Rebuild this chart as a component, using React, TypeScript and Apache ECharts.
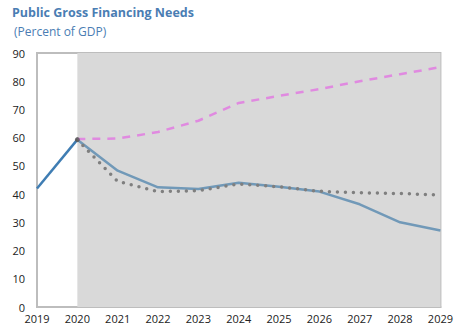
import React, { useEffect, useRef } from "react";
import * as echarts from "echarts";

const years = ["2019", "2020", "2021", "2022", "2023", "2024", "2025", "2026", "2027", "2028", "2029"];
const historical = [42, 59.3, null, null, null, null, null, null, null, null, null];
const baseline = [null, 59.3, 48.3, 42.4, 41.8, 44, 42.6, 40.9, 36.4, 30, 27.1];
const dottedScenario = [null, 59.3, 44.5, 40.9, 41.2, 43.6, 42.6, 41, 40.5, 40.2, 39.7];
const dashedScenario = [null, 59.5, 59.7, 62, 66, 72.3, 74.8, 77.2, 80, 82.5, 85];
const joinPoint = [null, 59.3, null, null, null, null, null, null, null, null, null];
const projectionStart = "2020";
const projectionEnd = "2029";
const titleText = "Public Gross Financing Needs";
const subtitleText = "(Percent of GDP)";

export default function App() {
  const ref = useRef<HTMLDivElement>(null);
  useEffect(() => {
    if (!ref.current) return;
    const chart = echarts.init(ref.current, undefined, { renderer: "svg" });
    const font = "'Open Sans', 'Noto Sans', sans-serif";
    chart.setOption({
      animation: false,
      backgroundColor: "#ffffff",
      textStyle: { fontFamily: font },
      graphic: [
        {
          type: "text",
          left: 12,
          top: 6,
          style: { text: titleText, fill: "#4a7db3", font: `bold 12.5px ${font}` },
        },
        {
          type: "text",
          left: 14,
          top: 25,
          style: { text: subtitleText, fill: "#4a7db3", font: `12px ${font}` },
        },
      ],
      grid: {
        left: 37,
        right: 14,
        top: 53,
        bottom: 21,
        show: true,
        borderColor: "#bdbdbd",
        borderWidth: 2,
        backgroundColor: "#ffffff",
      },
      xAxis: {
        type: "category",
        data: years,
        boundaryGap: false,
        axisLine: { show: true, lineStyle: { color: "#bdbdbd", width: 2 } },
        axisTick: { show: false },
        axisLabel: { color: "#222", fontSize: 11, margin: 6 },
        splitLine: { show: false },
      },
      yAxis: {
        type: "value",
        min: 0,
        max: 90,
        interval: 10,
        axisLine: { show: true, lineStyle: { color: "#bdbdbd", width: 2 } },
        axisTick: { show: false },
        axisLabel: { color: "#222", fontSize: 11, margin: 12 },
        splitLine: { show: false },
      },
      series: [
        {
          type: "line",
          data: historical,
          symbol: "none",
          lineStyle: { color: "#3f7db3", width: 2.5 },
          markArea: {
            silent: true,
            itemStyle: { color: "#d9d9d9" },
            data: [[{ xAxis: projectionStart }, { xAxis: projectionEnd }]],
          },
          z: 3,
        },
        {
          type: "line",
          data: baseline,
          symbol: "none",
          lineStyle: { color: "#7199b8", width: 2.5 },
          z: 3,
        },
        {
          type: "line",
          data: dottedScenario,
          symbol: "none",
          lineStyle: { color: "#7f7f7f", width: 3.5, type: [0, 8], cap: "round" },
          z: 4,
        },
        {
          type: "line",
          data: dashedScenario,
          symbol: "none",
          lineStyle: { color: "#e08ae0", width: 2.5, type: [8, 7] },
          z: 4,
        },
        {
          type: "scatter",
          data: joinPoint,
          symbol: "circle",
          symbolSize: 5,
          itemStyle: { color: "#555555" },
          z: 5,
        },
      ],
    });
    return () => chart.dispose();
  }, []);
  return <div ref={ref} style={{ width: 456, height: 328, position: "absolute", left: 0, top: 0 }} />;
}
